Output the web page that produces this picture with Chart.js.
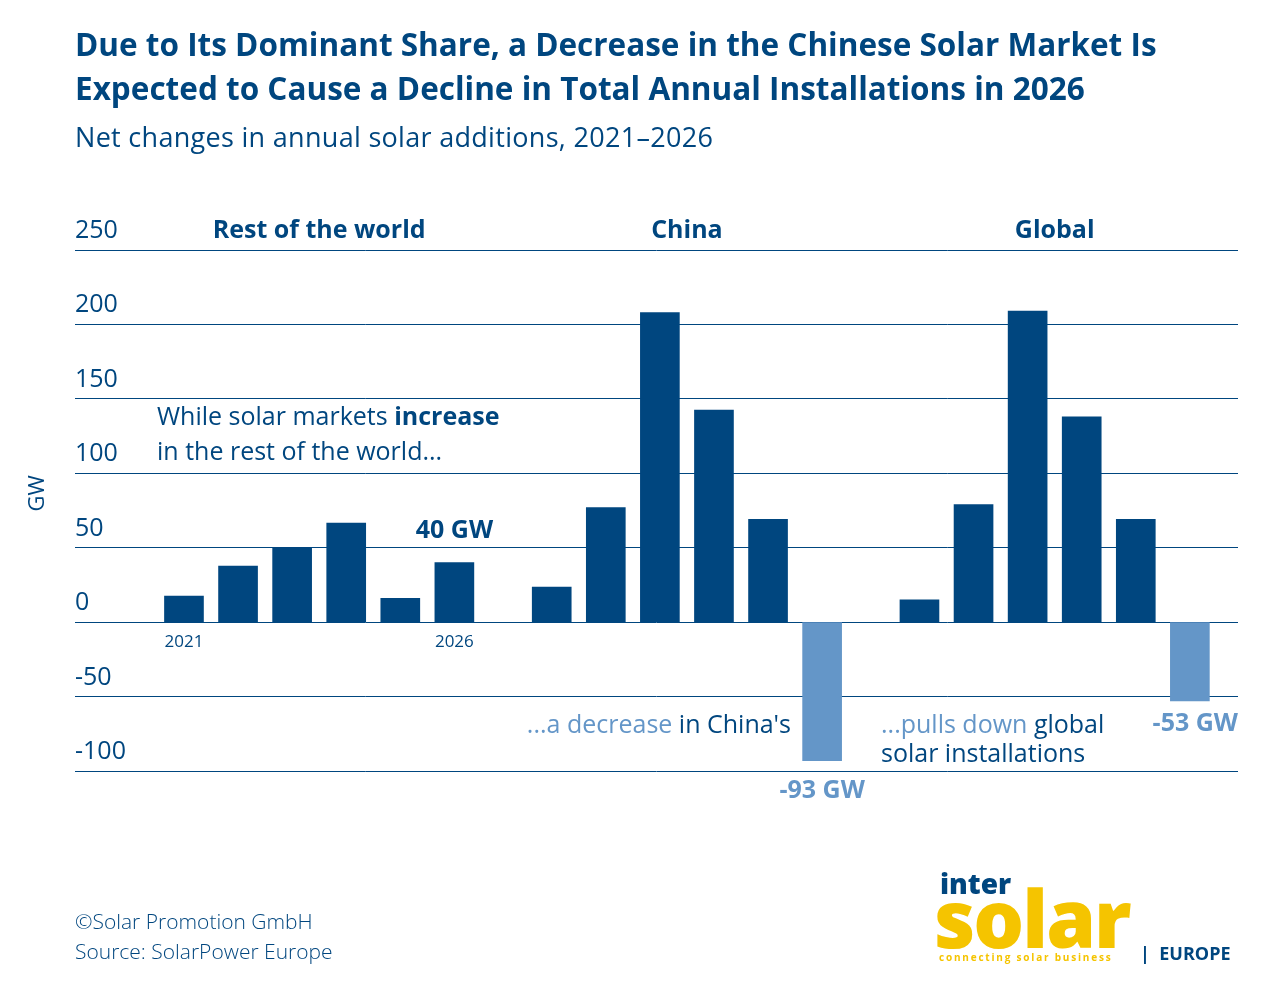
<!DOCTYPE html>
<html><head><meta charset="utf-8">
<script src="https://cdn.jsdelivr.net/npm/chart.js@4"></script>
<style>
body{margin:0;background:#fff;font-family:"Open Sans",sans-serif;}
#wrap{position:relative;width:1281px;height:1008px;}
canvas{position:absolute;left:0;top:0;}
.t{position:absolute;color:#00467f;white-space:nowrap;}
</style></head><body>
<div id="wrap">
<canvas id="c" width="1281" height="1008"></canvas>
<div class="t" style="left:75px;top:22px;font-size:31.5px;font-weight:700;line-height:44px;">Due to Its Dominant Share, a Decrease in the Chinese Solar Market Is<br>Expected to Cause a Decline in Total Annual Installations in 2026</div>
<div class="t" style="left:75px;top:118px;font-size:27px;letter-spacing:0.3px;">Net changes in annual solar additions, 2021–2026</div>
<div class="t" style="left:75px;top:906px;font-size:21px;line-height:30px;font-weight:300;">©Solar Promotion GmbH<br>Source: SolarPower Europe</div>
<div class="t" style="left:940px;top:864px;font-size:28px;font-weight:800;">inter</div>
<div class="t" style="left:934px;top:862px;font-size:80px;font-weight:800;color:#f5c400;letter-spacing:-2px;">solar</div>
<div class="t" style="left:939px;top:950px;font-size:10px;font-weight:700;color:#f5c400;letter-spacing:1.8px;">connecting solar business</div>
<div class="t" style="left:1140px;top:941px;font-size:18px;font-weight:700;">|&nbsp; EUROPE</div>
</div>
<script>
const rowValues = [17.5, 37.6, 49.7, 66.5, 16, 40];
const chinaValues = [23.5, 77, 208, 142.5, 69, -93];
const globalValues = [15, 79, 209, 138, 69, -53];
const groupStarts = [0, 6.8, 13.6];
const groupLabels = ['Rest of the world', 'China', 'Global'];
const yTicks = [250, 200, 150, 100, 50, 0, -50, -100];
const yearLabels = ['2021', '2026'];

const points = [];
[rowValues, chinaValues, globalValues].forEach((vals, g) =>
  vals.forEach((v, i) => points.push({x: groupStarts[g] + i, y: v})));

const DARK = '#00467f', LIGHT = '#6496c8';

const overlay = {
  id: 'overlay',
  afterDraw(chart) {
    const {ctx} = chart, xs = chart.scales.x, ys = chart.scales.y;
    ctx.save();
    ctx.fillStyle = DARK;
    ctx.font = '25px "Open Sans"';
    ctx.textAlign = 'left';
    yTicks.forEach(t => ctx.fillText(String(t), 75, ys.getPixelForValue(t) - 12));
    ctx.font = 'bold 25px "Open Sans"';
    ctx.textAlign = 'center';
    groupLabels.forEach((l, g) => ctx.fillText(l, xs.getPixelForValue(groupStarts[g] + 2.5), ys.getPixelForValue(250) - 12));
    ctx.font = '17px "Open Sans"';
    ctx.fillText(yearLabels[0], xs.getPixelForValue(0), ys.getPixelForValue(0) + 25);
    ctx.fillText(yearLabels[1], xs.getPixelForValue(5), ys.getPixelForValue(0) + 25);
    ctx.font = 'bold 25px "Open Sans"';
    ctx.fillText('40 GW', xs.getPixelForValue(5), ys.getPixelForValue(40) - 25);
    ctx.fillStyle = LIGHT;
    ctx.fillText('-93 GW', xs.getPixelForValue(11.8), ys.getPixelForValue(-93) + 37);
    ctx.textAlign = 'right';
    ctx.fillText('-53 GW', 1238, ys.getPixelForValue(-53) + 30);
    // annotations
    ctx.textAlign = 'left';
    ctx.font = '25px "Open Sans"';
    ctx.fillStyle = DARK;
    const a = 'While solar markets ';
    const aw = ctx.measureText(a).width;
    ctx.fillText(a, 157, 425);
    ctx.font = 'bold 25px "Open Sans"';
    ctx.fillText('increase', 157 + aw, 425);
    ctx.font = '25px "Open Sans"';
    ctx.fillText('in the rest of the world...', 157, 460);
    ctx.textAlign = 'right';
    ctx.fillText("in China's", 791, 733);
    const w = ctx.measureText(" in China's").width;
    ctx.fillStyle = LIGHT;
    ctx.fillText('...a decrease', 791 - w, 733);
    ctx.textAlign = 'left';
    ctx.fillText('...pulls down', 881, 733);
    ctx.fillStyle = DARK;
    ctx.fillText(' global', 881 + ctx.measureText('...pulls down').width, 733);
    ctx.fillText('solar installations', 881, 762);
    ctx.translate(44, ys.getPixelForValue(100) + 20);
    ctx.rotate(-Math.PI / 2);
    ctx.textAlign = 'center';
    ctx.font = '22px "Open Sans"';
    ctx.fillText('GW', 0, 0);
    ctx.restore();
  }
};

new Chart(document.getElementById('c'), {
  type: 'bar',
  data: {datasets: [{
    data: points,
    backgroundColor: points.map(p => p.y < 0 ? LIGHT : DARK),
    barThickness: 39
  }]},
  options: {
    responsive: false, animation: false,
    layout: {padding: {left: 75, right: 43, top: 250, bottom: 237}},
    plugins: {legend: {display: false}, tooltip: {enabled: false}},
    scales: {
      x: {type: 'linear', min: -2.015, max: 19.49, offset: false, display: false},
      y: {min: -100, max: 250, ticks: {display: false, stepSize: 50},
          grid: {color: DARK, lineWidth: 1, drawTicks: false}, border: {display: false}}
    }
  },
  plugins: [overlay]
});
</script>
</body></html>
